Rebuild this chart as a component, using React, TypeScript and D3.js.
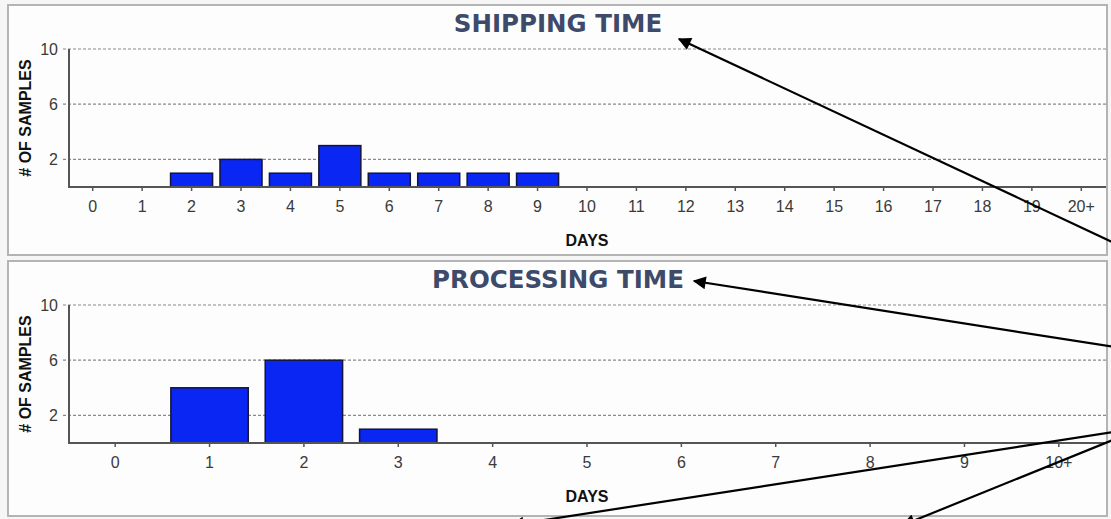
import * as d3 from "d3";

const shippingDays = ["0", "1", "2", "3", "4", "5", "6", "7", "8", "9", "10", "11", "12", "13", "14", "15", "16", "17", "18", "19", "20+"];
const shippingSamples = [0, 0, 1, 2, 1, 3, 1, 1, 1, 1, 0, 0, 0, 0, 0, 0, 0, 0, 0, 0, 0];

const processingDays = ["0", "1", "2", "3", "4", "5", "6", "7", "8", "9", "10+"];
const processingSamples = [0, 4, 6, 1, 0, 0, 0, 0, 0, 0, 0];

const yTicks = [2, 6, 10];

// annotation arrows (pixel space, they come in from outside the frame)
const arrows = [
	{ from: [1140, 255], to: [679, 39] },
	{ from: [1140, 351], to: [694, 281] },
	{ from: [1140, 428], to: [512, 525] },
	{ from: [1140, 429], to: [903, 525] },
];

const W = 1111;
const H = 519;
const PLOT_L = 68;
const PLOT_R = 1106;

interface PanelProps {
	title: string;
	days: string[];
	samples: number[];
	top: number;
	height: number;
	padding: number;
}

function Panel({ title, days, samples, top, height, padding }: PanelProps) {
	const plotTop = top + 44;
	const baseline = top + 182;

	const x = d3
		.scaleBand<string>()
		.domain(days)
		.range([PLOT_L, PLOT_R])
		.paddingInner(padding)
		.paddingOuter(padding / 2);
	const y = d3.scaleLinear().domain([0, 10]).range([baseline, plotTop]);

	return (
		<g>
			<rect x={8} y={top} width={1099} height={height} fill="#fdfdfd" stroke="#b4b4b4" strokeWidth={2} />
			<text
				x={558}
				y={top + 27}
				textAnchor="middle"
				fill="#3d4a6a"
				fontFamily="DejaVu Sans, Verdana, sans-serif"
				fontWeight="bold"
				fontSize={24.5}
			>
				{title}
			</text>

			{/* grid */}
			{yTicks.map((t) => (
				<g key={t}>
					<line x1={PLOT_L - 5} x2={PLOT_R} y1={y(t)} y2={y(t)} stroke="#8a8a8a" strokeWidth={1.2} strokeDasharray="3,2" />
					<text
						x={58}
						y={y(t)}
						dy="0.36em"
						textAnchor="end"
						fill="#3a3a3a"
						fontFamily="Liberation Sans, Arial, sans-serif"
						fontSize={16}
					>
						{t}
					</text>
				</g>
			))}

			{/* bars */}
			{samples.map((v, i) =>
				v > 0 ? (
					<rect
						key={i}
						x={x(days[i])}
						y={y(v)}
						width={x.bandwidth()}
						height={baseline - y(v)}
						fill="#0a26f2"
						stroke="#14143a"
						strokeWidth={1.5}
					/>
				) : null,
			)}

			{/* axes */}
			<line x1={PLOT_L + 1} x2={PLOT_L + 1} y1={plotTop} y2={baseline} stroke="#555" strokeWidth={2} />
			<line x1={PLOT_L} x2={PLOT_R} y1={baseline} y2={baseline} stroke="#555" strokeWidth={2} />
			{days.map((d) => {
				const cx = (x(d) ?? 0) + x.bandwidth() / 2;
				return (
					<g key={d}>
						<line x1={cx} x2={cx} y1={baseline} y2={baseline + 4} stroke="#555" strokeWidth={1.5} />
						<text
							x={cx}
							y={baseline + 25}
							textAnchor="middle"
							fill="#3a3a3a"
							fontFamily="Liberation Sans, Arial, sans-serif"
							fontSize={16}
						>
							{d}
						</text>
					</g>
				);
			})}

			<text
				x={587}
				y={baseline + 59}
				textAnchor="middle"
				fill="#111"
				fontFamily="Liberation Sans, Arial, sans-serif"
				fontWeight="bold"
				fontSize={16}
			>
				DAYS
			</text>
			<text
				transform={`translate(31,${(plotTop + baseline) / 2}) rotate(-90)`}
				textAnchor="middle"
				fill="#111"
				fontFamily="Liberation Sans, Arial, sans-serif"
				fontWeight="bold"
				fontSize={16}
			>
				# OF SAMPLES
			</text>
		</g>
	);
}

export default function App() {
	return (
		<svg width={W} height={H} style={{ position: "absolute", left: 0, top: 0 }}>
			<defs>
				<marker id="headBig" viewBox="0 0 10 10" refX="9" refY="5" markerWidth="18" markerHeight="13" orient="auto" markerUnits="userSpaceOnUse">
					<path d="M0,0 L10,5 L0,10 z" fill="#000" />
				</marker>
			</defs>
			<rect x={0} y={0} width={W} height={H} fill="#f6f6f6" />
			<Panel title="SHIPPING TIME" days={shippingDays} samples={shippingSamples} top={5} height={250} padding={0.15} />
			<Panel title="PROCESSING TIME" days={processingDays} samples={processingSamples} top={261} height={255} padding={0.18} />
			{arrows.map((a, i) => (
				<line
					key={i}
					x1={a.from[0]}
					y1={a.from[1]}
					x2={a.to[0]}
					y2={a.to[1]}
					stroke="#000"
					strokeWidth={2.2}
					markerEnd="url(#headBig)"
				/>
			))}
		</svg>
	);
}
